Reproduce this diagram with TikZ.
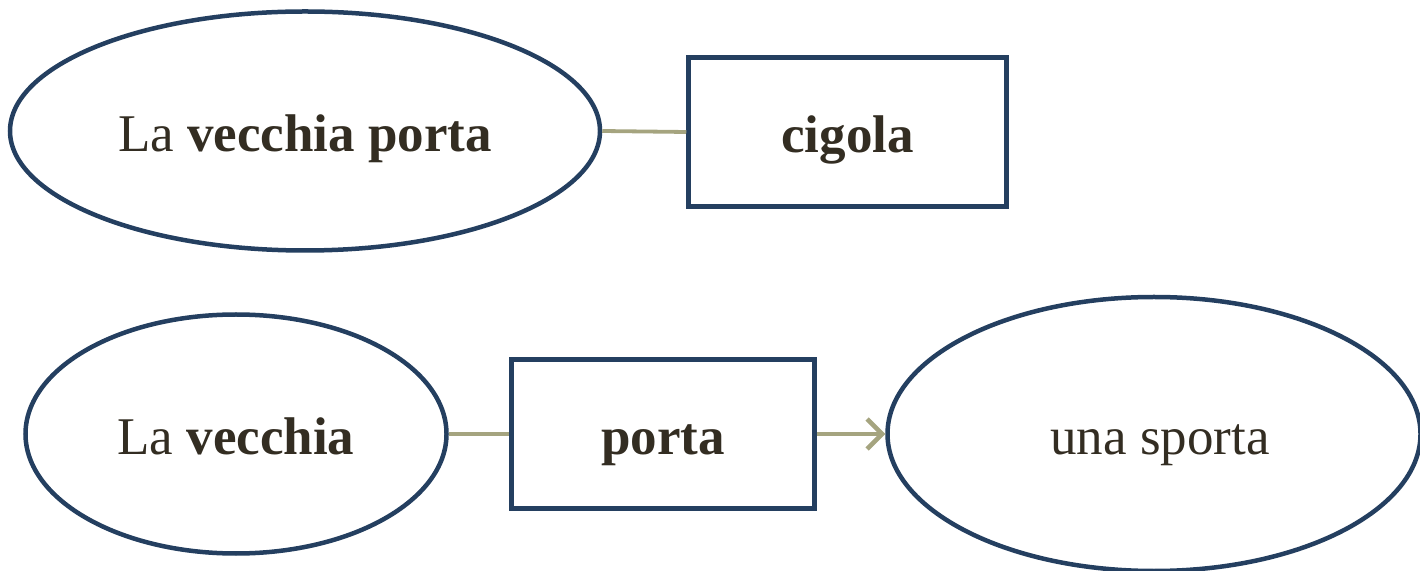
\documentclass[tikz,border=0pt]{standalone}
\usepackage{fontspec}
\setmainfont{Liberation Serif}
\usetikzlibrary{shapes.geometric,arrows.meta}
\definecolor{edgeblue}{HTML}{243F60}
\definecolor{txt}{HTML}{332D22}
\definecolor{conn}{HTML}{A5A47F}
\tikzset{
  ell/.style={ellipse, draw=edgeblue, line width=4.5pt, inner sep=0pt, text=txt, font=\fontsize{53}{60}\selectfont, text height=45pt, text depth=4pt},
  boxnode/.style={rectangle, draw=edgeblue, line width=4.5pt, inner sep=0pt, text=txt, font=\fontsize{53}{60}\selectfont\bfseries, text height=45pt, text depth=4pt},
  link/.style={draw=conn, line width=3.8pt},
}
\begin{document}
\begin{tikzpicture}[x=1pt,y=1pt]
\useasboundingbox (0,0) rectangle (1420,570);
\node[ell, minimum width=590pt, minimum height=239pt] (e1) at (305,439) {La \textbf{vecchia porta}};
\node[boxnode, minimum width=318pt, minimum height=149pt] (r1) at (847.5,438) {cigola};
\node[ell, minimum width=421pt, minimum height=239pt] (e2) at (236,136) {La \textbf{vecchia}};
\node[boxnode, minimum width=303pt, minimum height=149pt] (r2) at (663,136) {porta};
\node[ell, minimum width=533pt, minimum height=274pt] (e3) at (1154,136) {\hspace*{12pt}una sporta};
\draw[link] (e1.east) -- (r1.west);
\draw[link] (e2.east) -- (r2.west);
\draw[link, -{Straight Barb[length=15pt,width=30pt,line width=4.5pt]}] (r2.east) -- (e3.west);
\end{tikzpicture}
\end{document}
